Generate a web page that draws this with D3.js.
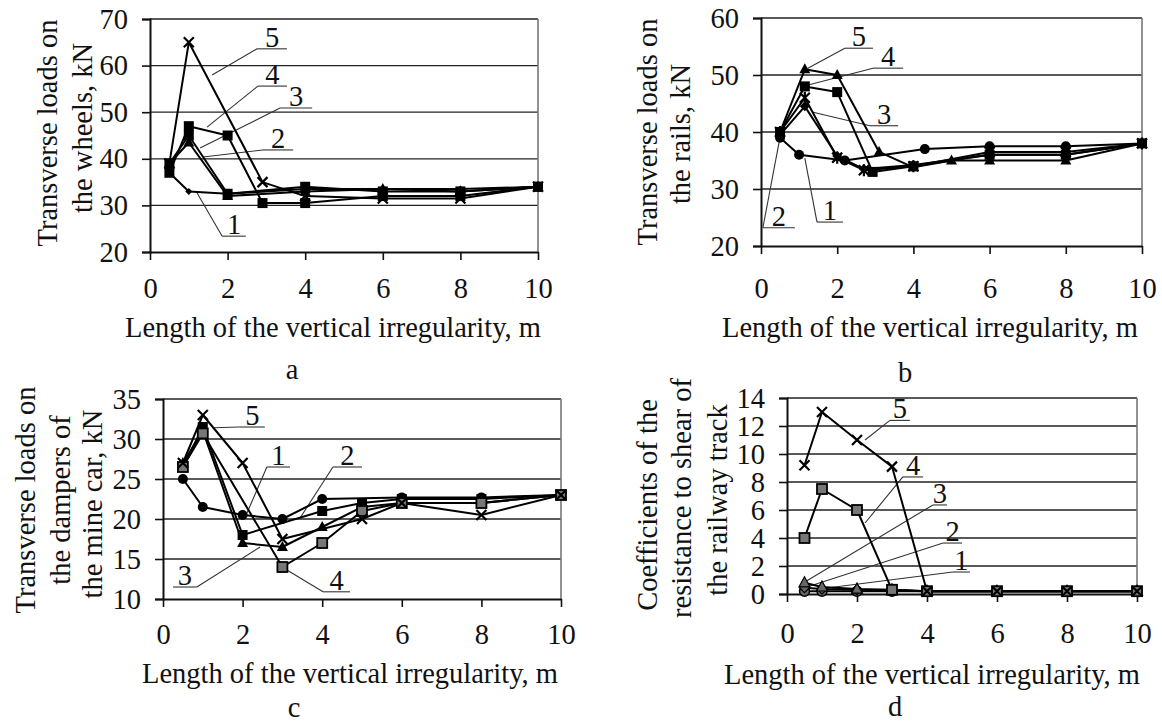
<!DOCTYPE html>
<html><head><meta charset="utf-8">
<script src="https://cdn.jsdelivr.net/npm/d3@7"></script>
<style>
body{margin:0;background:#fff}
svg{display:block}
text{font-family:"Liberation Serif","Times New Roman",serif;fill:#111;font-size:28.5px}
</style>
</head><body><svg id="chart" width="1162" height="726"></svg>
<script>
// ---------- data ----------
const xTicks = [0, 2, 4, 6, 8, 10];
const xTitle = "Length of the vertical irregularity, m";

// panel a: transverse loads on the wheels
const aX  = [0.5, 1, 2, 2.9, 4, 6, 8, 10];
const aS1 = [37, 33, 32.5, null, 33.5, 33.5, 33.5, 34];
const aS2 = [39, 43.5, 32, null, 33, 33.5, 33, 34];
const aS3 = [39, 45, 32.5, null, 34, 33, 33, 34];
const aS4 = [37, 47, 45, 30.5, 30.5, 32, 32, 34];
const aS5 = [39, 65, null, 35, 32, 31.5, 31.5, 34];
const aYTicks = [20, 30, 40, 50, 60, 70];

// panel b: transverse loads on the rails ([x, y] pairs)
const bS1 = [[0.5,39],[1,36],[2.2,35],[4.3,37],[6,37.5],[8,37.5],[10,38]];
const bS2 = [[0.5,39.5],[1.15,44.5],[2,35.8],[2.7,33.5],[4,34.2],[6,36],[8,36],[10,38]];
const bS3 = [[0.5,40],[1.15,46],[2,35.5],[2.7,33.3],[4,34],[6,36.5],[8,36.5],[10,38]];
const bS4 = [[0.5,40],[1.15,48],[2,47],[2.93,33],[4,34],[6,36],[8,36],[10,38]];
const bS5 = [[0.5,40],[1.15,51],[2,50],[3.1,36.5],[4,33.8],[5,35],[6,35],[8,35],[10,38]];
const bYTicks = [20, 30, 40, 50, 60];

// panel c: transverse loads on the dampers
const cX  = [0.5, 1, 2, 3, 4, 5, 6, 8, 10];
const cS1 = [25, 21.5, 20.5, 20, 22.5, null, 22.7, 22.7, 23];
const cS2 = [26.5, 31.5, 18, null, 21, 22, 22.5, 22.5, 23];
const cS3 = [27, 31, 17, 16.5, 19, 21.5, 22, 22, 23];
const cS4 = [26.5, 30.7, null, 14, 17, 21, 22, 22, 23];
const cS5 = [27, 33, 27, 17.5, null, 20, 22, 20.5, 23];
const cYTicks = [10, 15, 20, 25, 30, 35];

// panel d: coefficients of resistance to shear
const dX  = [0.5, 1, 2, 3, 4, 6, 8, 10];
const dS1 = [0.2, 0.2, 0.2, 0.2, 0.2, 0.2, 0.2, 0.2];
const dS2 = [0.45, 0.35, 0.3, 0.25, 0.2, 0.2, 0.2, 0.2];
const dS3 = [0.8, 0.5, 0.35, 0.3, 0.2, 0.2, 0.2, 0.2];
const dS4 = [4, 7.5, 6, 0.3, 0.2, 0.2, 0.2, 0.2];
const dS5 = [9.2, 13, 11, 9.1, 0.2, 0.2, 0.2, 0.2];
const dYTicks = [0, 2, 4, 6, 8, 10, 12, 14];

// curve labels: text, anchor on curve (x,y), elbow (x,y), underline x1..x2 (data units)
const aLabels = [
  ["5", 1.6, 58.0, 2.76, 63.6, 2.76, 3.53],
  ["4", 1.47, 46.8, 2.78, 55.6, 2.78, 3.53],
  ["3", 1.29, 42.3, 3.35, 50.9, 3.35, 4.18],
  ["2", 1.37, 40.4, 2.91, 41.9, 2.91, 3.69],
  ["1", 1.21, 32.7, 1.86, 23.4, 1.86, 2.47]
];
const bLabels = [
  ["5", 1.23, 51.2, 2.2, 54.7, 2.2, 2.94],
  ["4", 1.21, 48.2, 2.94, 51.2, 2.94, 3.73],
  ["3", 1.34, 43.5, 2.86, 41.1, 2.86, 3.6],
  ["2", 0.5, 39.1, 0.05, 23.2, 0.05, 0.89],
  ["1", 1.15, 35.4, 1.47, 24.2, 1.47, 2.15]
];
const cLabels = [
  ["5", 1.26, 31.4, 1.93, 31.5, 1.93, 2.56],
  ["1", 2.11, 20.75, 2.61, 26.5, 2.61, 3.19],
  ["2", 3.44, 20.1, 4.27, 26.5, 4.27, 5.0],
  ["3", 2.44, 16.5, 0.85, 11.5, 0.25, 0.85],
  ["4", 3.02, 13.9, 4.02, 10.9, 4.02, 4.7]
];
const dLabels = [
  ["5", 2.23, 11, 2.94, 12.4, 2.94, 3.51],
  ["4", 2.23, 5.07, 3.31, 8.36, 3.31, 3.89],
  ["3", 0.51, 0.86, 4.17, 6.36, 4.17, 4.57],
  ["2", 0.57, 0.5, 4.46, 3.64, 4.46, 5.0],
  ["1", 1.14, 0.43, 4.74, 1.57, 4.74, 5.23]
];

// ---------- helpers ----------
const zip = (xs, ys) => xs.map((x, i) => [x, ys[i]]).filter(d => d[1] !== null);

const panels = [
  { box:{l:150, r:538, t:19, b:252}, yd:[20,70], yt:aYTicks, letter:"a", letterPos:[292,369],
    tickY:288, titleY:327, titleX:333, ytitle:[[47,"Transverse loads on",133],[82,"the wheels, kN",128]],
    series:[[zip(aX,aS1),"dot"],[zip(aX,aS2),"tri"],[zip(aX,aS3),"sq"],[zip(aX,aS4),"sq"],[zip(aX,aS5),"x"]],
    labels:aLabels },
  { box:{l:761, r:1142, t:18, b:246}, yd:[20,60], yt:bYTicks, letter:"b", letterPos:[905,372],
    tickY:288, titleY:327, titleX:930, ytitle:[[647,"Transverse loads on",132],[680,"the rails, kN",134]],
    series:[[bS1,"circ"],[bS2,"dia"],[bS3,"star"],[bS4,"sq"],[bS5,"tri"]],
    labels:bLabels },
  { box:{l:163, r:561, t:399, b:599}, yd:[10,35], yt:cYTicks, letter:"c", letterPos:[294,707],
    tickY:634, titleY:673, titleX:350, ytitle:[[25,"Transverse loads on",500],[60,"the dampers of",500],[92,"the mine car, kN",504]],
    series:[[zip(cX,cS1),"circ"],[zip(cX,cS2),"sq"],[zip(cX,cS3),"tri"],[zip(cX,cS4),"gsq"],[zip(cX,cS5),"x"]],
    labels:cLabels },
  { box:{l:787, r:1137, t:398, b:594}, yd:[0,14], yt:dYTicks, letter:"d", letterPos:[895,706],
    tickY:633, titleY:674, titleX:932, ytitle:[[647,"Coefficients of the",505],[681,"resistance to shear of",498],[717,"the railway track",500]],
    series:[[zip(dX,dS1),"gcirc"],[zip(dX,dS2),"gdia"],[zip(dX,dS3),"gtri"],[zip(dX,dS4),"gsq"],[zip(dX,dS5),"x"]],
    labels:dLabels }
];

const svg = d3.select("#chart");

function drawMarker(g, type, cx, cy) {
  const s = 5;
  if (type === "x" || type === "star") {
    const pth = `M${cx-s},${cy-s}L${cx+s},${cy+s}M${cx-s},${cy+s}L${cx+s},${cy-s}` + (type==="star" ? `M${cx},${cy-s-1}L${cx},${cy+s+1}` : "");
    g.append("path").attr("d", pth).attr("stroke", "#000").attr("stroke-width", 2.2).attr("fill", "none");
  } else if (type === "sq" || type === "gsq") {
    g.append("rect").attr("x", cx-5).attr("y", cy-5).attr("width", 10).attr("height", 10)
      .attr("fill", type === "sq" ? "#000" : "#777").attr("stroke", "#000").attr("stroke-width", type==="sq"?0:1.8);
  } else if (type === "circ" || type === "gcirc") {
    g.append("circle").attr("cx", cx).attr("cy", cy).attr("r", 5)
      .attr("fill", type === "circ" ? "#000" : "#666").attr("stroke", "#000").attr("stroke-width", type==="circ"?0:1.5);
  } else if (type === "tri" || type === "gtri") {
    g.append("path").attr("d", `M${cx},${cy-6}L${cx+5.5},${cy+4}L${cx-5.5},${cy+4}Z`)
      .attr("fill", type === "tri" ? "#000" : "#666").attr("stroke", "#000").attr("stroke-width", type==="tri"?0:1.2);
  } else if (type === "dia" || type === "gdia") {
    g.append("path").attr("d", `M${cx},${cy-5}L${cx+5},${cy}L${cx},${cy+5}L${cx-5},${cy}Z`)
      .attr("fill", type === "dia" ? "#000" : "#666").attr("stroke", "#000").attr("stroke-width", type==="dia"?0:1.2);
  } else if (type === "dot") {
    g.append("path").attr("d", `M${cx},${cy-3.5}L${cx+3.5},${cy}L${cx},${cy+3.5}L${cx-3.5},${cy}Z`).attr("fill", "#000");
  }
}

panels.forEach(p => {
  const {l, r, t, b} = p.box;
  const x = d3.scaleLinear().domain([0, 10]).range([l, r]);
  const y = d3.scaleLinear().domain(p.yd).range([b, t]);
  const g = svg.append("g");

  g.selectAll(".grid").data(p.yt.filter(v => v !== p.yd[0])).join("line")
    .attr("x1", l).attr("x2", r).attr("y1", d => y(d)).attr("y2", d => y(d))
    .attr("stroke", "#222").attr("stroke-width", 1.3);
  g.append("line").attr("x1", r).attr("x2", r).attr("y1", t).attr("y2", b).attr("stroke", "#777").attr("stroke-width", 1.6);

  const ya = g.append("g").attr("transform", `translate(${l},0)`)
    .call(d3.axisLeft(y).tickValues(p.yt).tickSize(8).tickFormat(d3.format("d")));
  ya.select(".domain").attr("stroke", "#111").attr("stroke-width", 2);
  ya.selectAll(".tick line").attr("stroke", "#111").attr("stroke-width", 1.6);
  ya.selectAll(".tick text").attr("x", -22).attr("font-size", 28.5).attr("font-family", null).attr("fill", "#111");

  const xa = g.append("g").attr("transform", `translate(0,${b})`)
    .call(d3.axisBottom(x).tickValues(xTicks).tickSize(8).tickSizeOuter(0).tickFormat(d3.format("d")));
  xa.select(".domain").attr("stroke", "#111").attr("stroke-width", 2);
  xa.selectAll(".tick line").attr("stroke", "#111").attr("stroke-width", 1.6);
  xa.selectAll(".tick text").attr("y", p.tickY - b).attr("dy", "0.35em").attr("font-size", 28.5).attr("font-family", null).attr("fill", "#111");

  g.append("text").attr("x", p.titleX).attr("y", p.titleY).attr("dy", "0.35em")
    .attr("text-anchor", "middle").text(xTitle);
  p.ytitle.forEach(([cx, txt, cy]) => {
    g.append("text").attr("transform", `translate(${cx},${cy}) rotate(-90)`)
      .attr("dy", "0.35em").attr("text-anchor", "middle").text(txt);
  });
  g.append("text").attr("x", p.letterPos[0]).attr("y", p.letterPos[1]).attr("dy", "0.35em")
    .attr("text-anchor", "middle").text(p.letter);

  p.labels.forEach(([txt, ax, ay, ex, ey, u1, u2]) => {
    g.append("line").attr("x1", x(ax)).attr("y1", y(ay)).attr("x2", x(ex)).attr("y2", y(ey))
      .attr("stroke", "#333").attr("stroke-width", 1.1);
    g.append("line").attr("x1", x(u1)).attr("y1", y(ey)).attr("x2", x(u2)).attr("y2", y(ey))
      .attr("stroke", "#333").attr("stroke-width", 1.1);
    g.append("text").attr("x", (x(u1) + x(u2)) / 2).attr("y", y(ey) - 2)
      .attr("text-anchor", "middle").text(txt);
  });

  const line = d3.line().x(d => x(d[0])).y(d => y(d[1]));
  p.series.forEach(([data]) => {
    g.append("path").datum(data).attr("d", line).attr("fill", "none")
      .attr("stroke", "#000").attr("stroke-width", 2).attr("stroke-linejoin", "round");
  });
  p.series.forEach(([data, type]) => {
    data.forEach(d => drawMarker(g, type, x(d[0]), y(d[1])));
  });
});
</script>
</body></html>
